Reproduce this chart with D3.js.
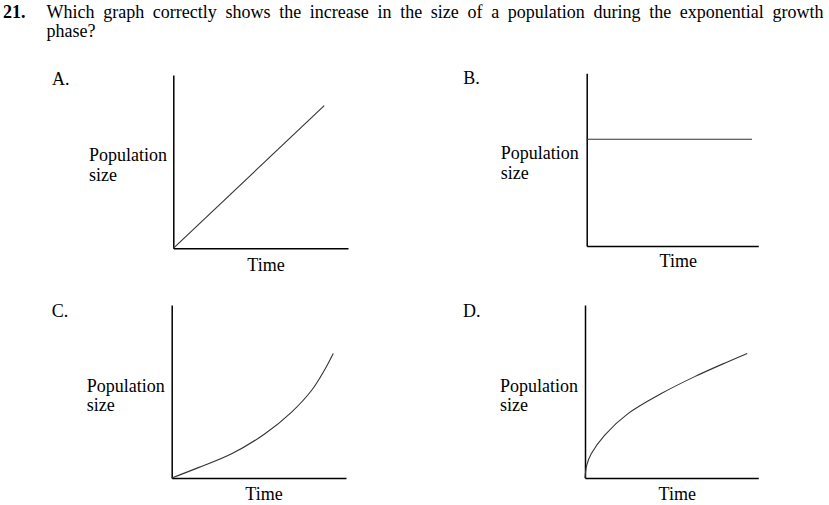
<!DOCTYPE html>
<html>
<head>
<meta charset="utf-8">
<script src="https://cdn.jsdelivr.net/npm/d3@7"></script>
<style>
  html, body { margin: 0; padding: 0; background: #fff; }
  svg { display: block; }
  text { font-family: "Liberation Serif", "Times New Roman", serif; fill: #000; }
</style>
</head>
<body>
<svg id="chart" width="829" height="505"></svg>
<script>
// ---- Data ----
const questionNumber = "21.";
const questionLine1 = "Which graph correctly shows the increase in the size of a population during the exponential growth";
const questionLine2 = "phase?";
const panelLabels = ["A.", "B.", "C.", "D."];
const yAxisLabel = ["Population", "size"];
const xAxisLabel = "Time";

const timeA = [0, 86.4];
const popA  = [0, 82.3];
const timeB = [0, 96.3];
const popB  = [61.8, 61.8];
const timeC = [0, 15.3, 34.4, 53.5, 68.8, 80.3, 87.6, 92.7];
const popC  = [0, 6.0, 14.0, 25.6, 38.1, 50.7, 62.3, 72.0];
const timeD = [0, 1.0, 3.6, 11.4, 24.8, 44.0, 63.3, 82.2, 93.6];
const popD  = [0, 7.5, 14.0, 24.8, 37.2, 48.8, 58.6, 67.1, 72.0];

// ---- Layout ----
const svg = d3.select("#chart");
const FS = 18;

// Header
svg.append("text").attr("x", 3).attr("y", 17.5)
  .attr("font-size", FS).attr("font-weight", "bold").text(questionNumber);

const line1 = svg.append("text").attr("y", 17.5).attr("font-size", FS);
const words = questionLine1.split(" ");
const left = 46.5, right = 823.5;
const tmp = svg.append("text").attr("font-size", FS).attr("x", -1000).attr("y", -1000);
const widths = words.map(w => { tmp.text(w); return tmp.node().getComputedTextLength(); });
tmp.remove();
const total = d3.sum(widths);
const gap = (right - left - total) / (words.length - 1);
let cx = left;
words.forEach((w, i) => {
  line1.append("tspan").attr("x", cx).text(w);
  cx += widths[i] + gap;
});
svg.append("text").attr("x", left).attr("y", 37).attr("font-size", FS).text(questionLine2);

const panels = [
  { label: panelLabels[0], time: timeA, pop: popA, x0: 173.3, x1: 348, y0: 248.3, yTop: 75,
    lx: 52, ly: 85, px: 89, py: 161, tx: 266, ty: 270.5 },
  { label: panelLabels[1], time: timeB, pop: popB, x0: 586.7, x1: 758.3, y0: 246, yTop: 73.3,
    lx: 463.3, ly: 84, px: 500.7, py: 159, tx: 678.3, ty: 266.7 },
  { label: panelLabels[2], time: timeC, pop: popC, x0: 171.7, x1: 346, y0: 478, yTop: 305,
    lx: 51.7, ly: 316.7, px: 86.7, py: 391.7, tx: 264, ty: 500 },
  { label: panelLabels[3], time: timeD, pop: popD, x0: 585, x1: 758.3, y0: 478, yTop: 305,
    lx: 463, ly: 316.7, px: 500, py: 391.7, tx: 677.3, ty: 500 }
];

panels.forEach(p => {
  const g = svg.append("g");
  const x = d3.scaleLinear().domain([0, 100]).range([p.x0, p.x1]);
  const y = d3.scaleLinear().domain([0, 100]).range([p.y0, p.yTop]);

  const xAxis = g.append("g").attr("transform", `translate(0,${p.y0})`)
    .call(d3.axisBottom(x).tickValues([]).tickSizeOuter(0));
  const yAxis = g.append("g").attr("transform", `translate(${p.x0},0)`)
    .call(d3.axisLeft(y).tickValues([]).tickSizeOuter(0));
  [xAxis, yAxis].forEach(a => a.select(".domain")
    .attr("stroke", "#000").attr("stroke-width", 1.5));

  const data = p.time.map((t, i) => [t, p.pop[i]]);
  g.append("path").datum(data)
    .attr("fill", "none").attr("stroke", "#333").attr("stroke-width", 1.1)
    .attr("d", d3.line().x(d => x(d[0])).y(d => y(d[1])).curve(d3.curveCatmullRom.alpha(0.5)));

  g.append("text").attr("x", p.lx).attr("y", p.ly).attr("font-size", FS).text(p.label);
  g.append("text").attr("x", p.px).attr("y", p.py).attr("font-size", FS).text(yAxisLabel[0]);
  g.append("text").attr("x", p.px).attr("y", p.py + 19.5).attr("font-size", FS).text(yAxisLabel[1]);
  g.append("text").attr("x", p.tx).attr("y", p.ty).attr("font-size", FS)
    .attr("text-anchor", "middle").text(xAxisLabel);
});
</script>
</body>
</html>
